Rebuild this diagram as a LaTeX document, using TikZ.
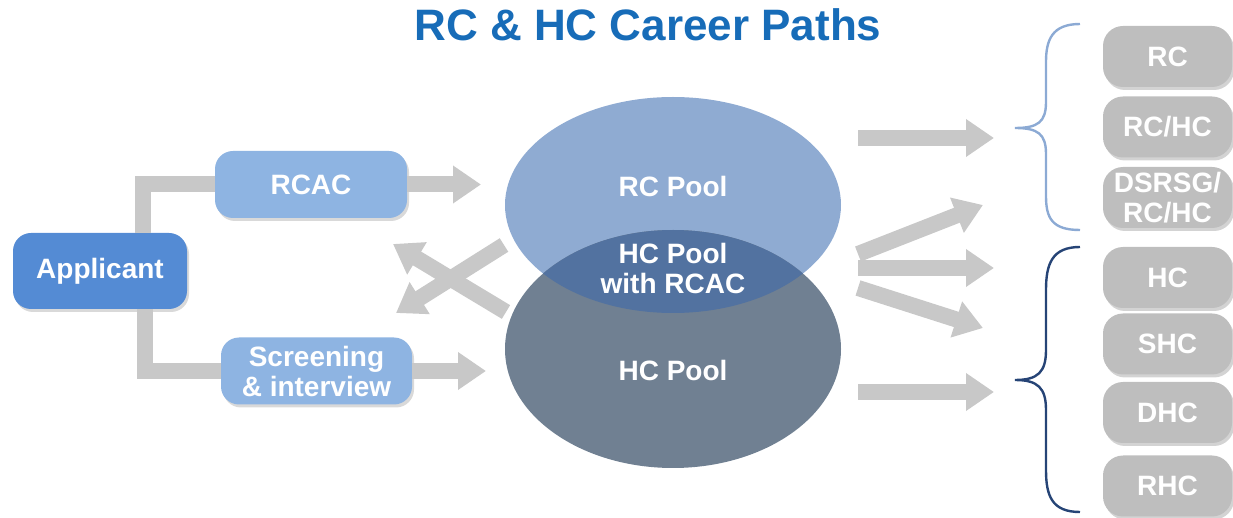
\documentclass[tikz,border=0pt]{standalone}
\usepackage{fontspec}
\setmainfont{Liberation Sans}
\usetikzlibrary{arrows.meta,shapes.geometric,shadows}

\definecolor{titleblue}{RGB}{23,108,184}
\definecolor{applblue}{RGB}{84,139,212}
\definecolor{stepblue}{RGB}{142,180,226}
\definecolor{rcfill}{RGB}{143,171,210}
\definecolor{hcfill}{RGB}{112,128,146}
\definecolor{lensfill}{RGB}{82,114,160}
\definecolor{arrowgrey}{RGB}{200,200,200}
\definecolor{boxgrey}{RGB}{190,190,190}
\definecolor{bracelight}{RGB}{140,170,212}
\definecolor{bracedark}{RGB}{38,68,118}

\tikzset{
  boxtext/.style={text=white, font=\fontsize{14}{15}\selectfont\bfseries, align=center},
  bluebox/.style={boxtext, rectangle, rounded corners=9pt, inner sep=0pt,
    drop shadow={shadow xshift=1pt, shadow yshift=-1.5pt, opacity=0.3}},
  pathbox/.style={boxtext, rectangle, rounded corners=10pt, fill=boxgrey, inner sep=0pt,
    minimum width=64.5pt, minimum height=30.5pt,
    drop shadow={shadow xshift=1pt, shadow yshift=-1.5pt, opacity=0.35}},
  pool/.style={ellipse, inner sep=0pt, minimum width=168pt},
  greybar/.style={draw=arrowgrey, line width=8pt},
  greyarrow/.style={draw=arrowgrey, line width=8pt, -{Triangle[length=14pt,width=18pt]}},
}

\begin{document}
\begin{tikzpicture}[x=0.5pt,y=-0.5pt]
	\useasboundingbox (0,0) rectangle (1233,518);
	
	% Titulo
	\node[text=titleblue, font=\fontsize{22}{24}\selectfont\bfseries] (title) at (648,25) {RC \& HC Career Paths};
	
	% Pools
	\node[pool, fill=rcfill, minimum height=108pt] (rcpool) at (673,205) {};
	\node[pool, fill=hcfill, minimum height=119pt] (hcpool) at (673,349) {};
	\begin{scope}
		\clip (rcpool.center) ellipse [x radius=84pt, y radius=54pt];
		\fill[lensfill] (hcpool.center) ellipse [x radius=84pt, y radius=59.5pt];
	\end{scope}
	\node[boxtext] (rctext) at (673,186) {RC Pool};
	\node[boxtext] (lenstext) at (673,268) {HC Pool\\with RCAC};
	\node[boxtext] (hctext) at (673,370) {HC Pool};
	
	% Caixas da esquerda
	\node[bluebox, fill=applblue, minimum width=87pt, minimum height=38pt] (appl) at (100,271) {Applicant};
	\node[bluebox, fill=stepblue, minimum width=96pt, minimum height=33.5pt] (rcac) at (311,184.5) {RCAC};
	\node[bluebox, fill=stepblue, minimum width=95.5pt, minimum height=33.5pt] (screen) at (316.5,371) {Screening\\\& interview};
	
	% Ligacoes da esquerda
	\draw[greybar] ([xshift=21.5pt]appl.north) |- (rcac.west);
	\draw[greybar] ([xshift=22.5pt]appl.south) |- (screen.west);
	\coordinate (rctip) at (481,184.5);
	\coordinate (hctip) at (486,371);
	\draw[greyarrow] (rcac.east) -- (rctip);
	\draw[greyarrow] (screen.east) -- (hctip);
	
	% Setas cruzadas
	\coordinate (xa) at (506,312);
	\coordinate (xb) at (393,244);
	\coordinate (xc) at (504,245);
	\coordinate (xd) at (396,313);
	\draw[greyarrow] (xa) -- (xb);
	\draw[greyarrow] (xc) -- (xd);
	
	% Setas da direita
	\coordinate (o1) at (858,138);  \coordinate (t1) at (994,138);
	\coordinate (o2) at (858,254);  \coordinate (t2) at (983,205);
	\coordinate (o3) at (858,268);  \coordinate (t3) at (994,268);
	\coordinate (o4) at (858,288);  \coordinate (t4) at (983,328);
	\coordinate (o5) at (858,392);  \coordinate (t5) at (994,392);
	\draw[greyarrow] (o1) -- (t1);
	\draw[greyarrow] (o2) -- (t2);
	\draw[greyarrow] (o3) -- (t3);
	\draw[greyarrow] (o4) -- (t4);
	\draw[greyarrow] (o5) -- (t5);
	
	% Chavetas
	\draw[bracelight, line width=1.2pt] (1080,24) .. controls (1052,24) and (1046,40) .. (1046,62) -- (1046,102)
		.. controls (1046,122) and (1038,128) .. (1015,128) .. controls (1038,128) and (1046,134) .. (1046,154)
		-- (1046,196) .. controls (1046,218) and (1052,230) .. (1080,230);
	\draw[bracedark, line width=1.2pt] (1080,247) .. controls (1052,247) and (1046,264) .. (1046,290) -- (1046,350)
		.. controls (1046,372) and (1038,380) .. (1015,380) .. controls (1038,380) and (1046,388) .. (1046,410)
		-- (1046,470) .. controls (1046,496) and (1052,512) .. (1080,512);
	
	% Caixas da direita
	\node[pathbox] (rc) at (1167.5,56.5) {RC};
	\node[pathbox] (rchc) at (1167.5,127) {RC/HC};
	\node[pathbox] (dsrsg) at (1167.5,197.5) {DSRSG/\\RC/HC};
	\node[pathbox] (hc) at (1167.5,277.5) {HC};
	\node[pathbox] (shc) at (1167.5,344) {SHC};
	\node[pathbox] (dhc) at (1167.5,412.5) {DHC};
	\node[pathbox] (rhc) at (1167.5,486) {RHC};
\end{tikzpicture}
\end{document}
